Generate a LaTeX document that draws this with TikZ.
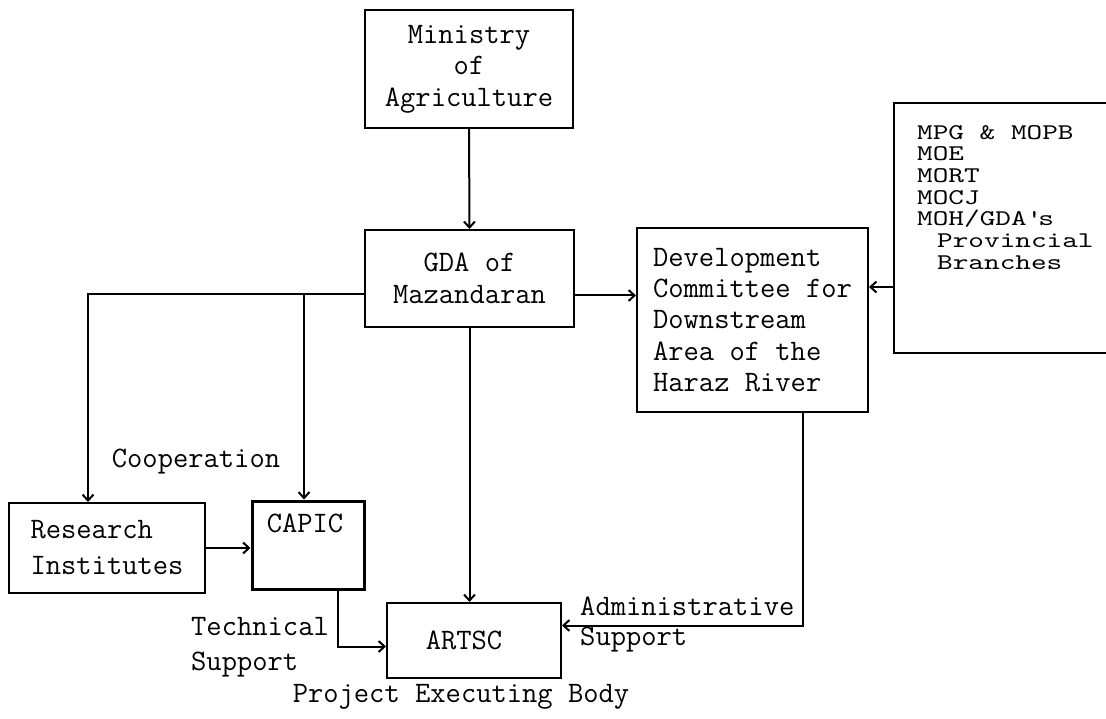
\documentclass[tikz,border=0pt]{standalone}
\usepackage{fontspec}
\newfontfamily\listfont{lmmono10-regular.otf}[FakeStretch=1.33]
\usetikzlibrary{arrows.meta}

\begin{document}
\begin{tikzpicture}[x=1pt,y=-1pt,>={Straight Barb[length=6pt,width=11pt]},
  font=\ttfamily\fontsize{29.7}{31.5}\selectfont,line cap=round,
  box/.style={draw,line width=2pt,inner sep=0pt},
  link/.style={->,line width=2pt}]
\useasboundingbox (0,0) rectangle (1106,719);
\clip (0,0) rectangle (1106,719);
\fill[white] (0,0) rectangle (1106,719);

\node[box,minimum width=208pt,minimum height=118pt,align=center] (ministry) at (469,69) {Ministry\\of\\Agriculture};
\node[box,minimum width=209pt,minimum height=97pt,align=center] (gda) at (469.5,278.5) {GDA of\\Mazandaran};
\node[box,minimum width=231pt,minimum height=184pt,align=left,font=\ttfamily\fontsize{29.7}{31.2}\selectfont] (devc) at (752.5,320)
  {Development\\Committee for\\Downstream\\Area of the\\Haraz River};
\node[box,anchor=north west,minimum width=240pt,minimum height=250pt,
  label={[anchor=north west,align=left,inner sep=0pt,xshift=24pt,yshift=-23pt,font=\listfont\fontsize{22.4}{21.7}\selectfont]north west:MPG \& MOPB\\MOE\\MORT\\MOCJ\\MOH/GDA\textquotesingle s\\\hspace*{20pt}Provincial\\\hspace*{20pt}Branches}] (others) at (893,102) {};
\node[box,minimum width=196pt,minimum height=90pt,align=left,font=\ttfamily\fontsize{29.7}{36}\selectfont] (research) at (107,548) {Research\\Institutes};
\node[box,line width=3pt,minimum width=112pt,minimum height=88pt,
  label={[anchor=north,inner sep=0pt,xshift=-3pt,yshift=-14pt]north:CAPIC}] (capic) at (308,545) {};
\node[box,minimum width=174pt,minimum height=75pt] (artsc) at (474,640.5) {\hspace*{-20pt}ARTSC};

\node (coop) at (196,462) {Cooperation};
\node[anchor=west,align=left,inner sep=0pt,font=\ttfamily\fontsize{29.7}{35}\selectfont] (tech) at (191,647) {Technical\\Support};
\node[anchor=west,align=left,inner sep=0pt,font=\ttfamily\fontsize{29.7}{30}\selectfont] (admin) at (580,625) {Administrative\\Support};
\node (body) at (461,697) {Project Executing Body};

\coordinate (coopline) at ([yshift=-16pt]gda.west);
\coordinate (capicin) at ([xshift=-4pt]capic.north);
\coordinate (gdaout) at ([yshift=-17pt]gda.east);
\coordinate (othersout) at ([yshift=-59pt]others.west);

\draw[link] (ministry.south) -- (gda.north);
\draw[link] (coopline) -| ([xshift=-19pt]research.north);
\draw[link] (capicin |- coopline) -- (capicin);
\draw[link] (research.east) -- (research.east -| capic.west);
\draw[link] ([xshift=30pt]capic.south) |- ([yshift=-6pt]artsc.west);
\draw[link] (gda.south) -- (gda.south |- artsc.north);
\draw[link] (gdaout) -- (gdaout -| devc.west);
\draw[link] (othersout) -- (othersout -| devc.east);
\draw[link] ([xshift=50pt]devc.south) |- ([yshift=15pt]artsc.east);
\end{tikzpicture}
\end{document}
